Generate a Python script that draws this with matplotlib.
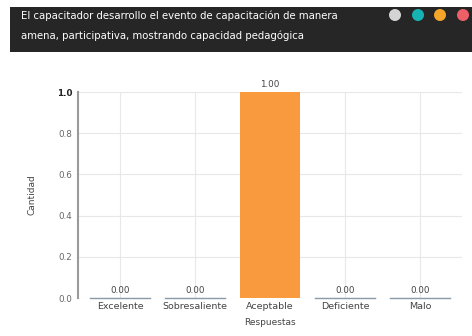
import matplotlib
matplotlib.use("Agg")
import matplotlib.pyplot as plt
from matplotlib.patches import Rectangle, Ellipse

categories = ["Excelente", "Sobresaliente", "Aceptable", "Deficiente", "Malo"]
values = [0.0, 0.0, 1.0, 0.0, 0.0]
yticks = [0.0, 0.2, 0.4, 0.6, 0.8, 1.0]
title_lines = ["El capacitador desarrollo el evento de capacitación de manera",
               "amena, participativa, mostrando capacidad pedagógica"]

W, H = 472, 336
fig = plt.figure(figsize=(W / 100, H / 100), dpi=100)
fig.patch.set_facecolor("white")

def fx(px):
    return px / W

def fy(py):
    return 1 - py / H

# header bar
fig.patches.append(Rectangle((fx(10), fy(52)), fx(472) - fx(10), fy(7) - fy(52),
                             transform=fig.transFigure, facecolor="#262626",
                             edgecolor="none", zorder=0))
fig.text(fx(21), fy(16), title_lines[0], color="white", fontsize=7.3,
         va="center", ha="left")
fig.text(fx(21), fy(36), title_lines[1], color="white", fontsize=7.3,
         va="center", ha="left")
circle_colors = ["#d4d4d4", "#17b3b3", "#f3a62a", "#ef5f68"]
circle_x = [395, 418, 440, 463]
for cx, cc in zip(circle_x, circle_colors):
    fig.patches.append(Ellipse((fx(cx), fy(15)), 12 / W, 12 / H,
                               transform=fig.transFigure,
                               facecolor=cc, edgecolor="none", zorder=1))

ax = fig.add_axes([fx(78), fy(298), fx(462) - fx(78), fy(92) - fy(298)])
x = list(range(len(categories)))
colors = ["#f99a3e" if v > 0 else "none" for v in values]
bars = ax.bar(x, values, width=0.8, color=colors, zorder=2)
for xi, v in zip(x, values):
    if v == 0:
        ax.plot([xi - 0.4, xi + 0.4], [0, 0], color="#8a9aa8", lw=1.0,
                zorder=3, clip_on=False)
    ax.text(xi, v + 0.015, f"{v:.2f}", ha="center", va="bottom", fontsize=6.3,
            color="#444444", clip_on=False)

ax.set_xlim(-0.56, 4.56)
ax.set_ylim(0, 1.0)
ax.set_yticks(yticks)
ax.set_yticklabels([f"{t:.1f}" for t in yticks], fontsize=6.3, color="#666666")
ax.get_yticklabels()[-1].set_color("#222222")
ax.get_yticklabels()[-1].set_fontweight("bold")
ax.set_xticks(x)
ax.set_xticklabels(categories, fontsize=6.8, color="#444444")
ax.tick_params(axis="both", length=0, pad=4)
ax.tick_params(axis="x", pad=3)
ax.grid(True, color="#e8e8e8", lw=0.8, zorder=0)
ax.set_axisbelow(True)
for s in ["top", "right", "bottom"]:
    ax.spines[s].set_visible(False)
ax.spines["left"].set_color("#9a9a9a")
ax.spines["left"].set_linewidth(1.5)
ax.set_ylabel("Cantidad", fontsize=6.5, color="#444444", labelpad=15)
ax.set_xlabel("Respuestas", fontsize=6.5, color="#444444", labelpad=5)

fig.savefig("out.png", dpi=100)
